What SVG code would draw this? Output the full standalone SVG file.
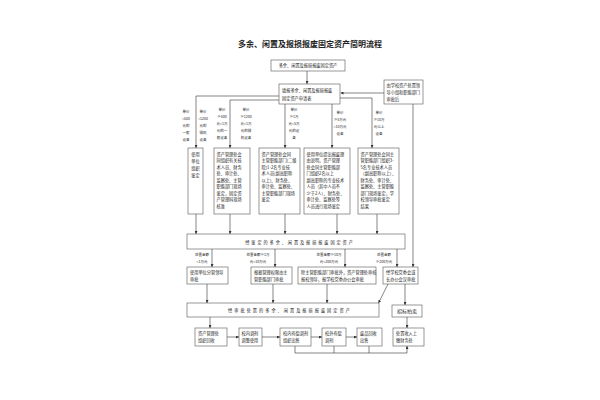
<svg xmlns="http://www.w3.org/2000/svg" width="600" height="400" viewBox="0 0 600 400">
<defs>
<marker id="a" viewBox="0 0 6 6" markerWidth="3" markerHeight="3" refX="6" refY="3" orient="auto" markerUnits="userSpaceOnUse"><path d="M0,0 L6,3 L0,6 z" fill="#333"/></marker>
<style>
text{font-family:"Noto Sans CJK SC","Noto Sans",sans-serif;fill:#222}
.t{font-size:4.2px}
.s{font-size:3.5px;text-anchor:middle}
.c{text-anchor:middle}
.b{fill:#fff;stroke:#555;stroke-width:0.6}
.l{fill:none;stroke:#333;stroke-width:0.6}
.ar{fill:none;stroke:#333;stroke-width:0.6;marker-end:url(#a)}
</style>
</defs>
<rect width="600" height="400" fill="#fff"/>
<text x="310" y="47" class="c" style="font-size:8px;font-weight:bold">多余、闲置及报损报废固定资产简明流程</text>

<g id="connectors">
<path class="ar" d="M307,71 V84"/>
<path class="ar" d="M384,93 H340.5"/>
<path class="ar" d="M279,96 H196 V148"/>
<path class="ar" d="M279,100 H230 V148"/>
<path class="ar" d="M285,104 V148"/>
<path class="ar" d="M332,104 V148"/>
<path class="ar" d="M340,98 H372 V148"/>
<path class="ar" d="M413,104 V267"/>
<path class="ar" d="M196,214 V234"/>
<path class="ar" d="M230,214 V234"/>
<path class="ar" d="M285,214 V234"/>
<path class="ar" d="M337,214 V234"/>
<path class="ar" d="M377,214 V234"/>
<path class="ar" d="M212,249 V267"/>
<path class="ar" d="M275,249 V267"/>
<path class="ar" d="M345,249 V267"/>
<path class="ar" d="M397,249 V267"/>
<path class="ar" d="M207,284 V303"/>
<path class="ar" d="M273,284 V303"/>
<path class="ar" d="M327,284 V303"/>
<path class="ar" d="M388,284 L378.5,303"/>
<path class="ar" d="M405,284 V305"/>
<path class="ar" d="M210,317 V328"/>
<path class="ar" d="M407,317 V328"/>
<path class="ar" d="M227,337 H239"/>
<path class="ar" d="M262,337 H280"/>
<path class="ar" d="M311,337 H322"/>
<path class="ar" d="M346,337 H357"/>
<path class="l" d="M295,346 V353 M334,346 V353 M369,346 V353 M295,353 H407"/>
<path class="ar" d="M407,353 V346"/>
</g>

<g id="labels">
<text class="s" x="186" y="113">单价</text><text class="s" x="186" y="120">&lt;500</text><text class="s" x="186" y="127">元的</text><text class="s" x="186" y="134">一般</text><text class="s" x="186" y="141">设备</text>
<text class="s" x="203" y="113">单价</text><text class="s" x="203" y="120">&lt;1200</text><text class="s" x="203" y="127">元的</text><text class="s" x="203" y="134">微机</text><text class="s" x="203" y="141">设备</text>
<text class="s" x="222" y="111">单价</text><text class="s" x="222" y="118">≥500</text><text class="s" x="222" y="125">元&lt;1万</text><text class="s" x="222" y="132">元的一</text><text class="s" x="222" y="139">般设备</text>
<text class="s" x="246" y="111">单价</text><text class="s" x="246" y="118">≥1200</text><text class="s" x="246" y="125">元&lt;1万</text><text class="s" x="246" y="132">元的微</text><text class="s" x="246" y="139">机设备</text>
<text class="s" x="294" y="111">单价</text><text class="s" x="294" y="118">≥1万</text><text class="s" x="294" y="125">元&lt;5万</text><text class="s" x="294" y="132">元的设</text><text class="s" x="294" y="139">备</text>
<text class="s" x="340" y="114">单价</text><text class="s" x="340" y="121">≥5万元</text><text class="s" x="340" y="128">&lt;10万元</text><text class="s" x="340" y="135">设备</text>
<text class="s" x="379" y="114">单价</text><text class="s" x="379" y="121">≥10万</text><text class="s" x="379" y="128">元以上</text><text class="s" x="379" y="135">设备</text>
<text class="s" x="202" y="256">处置金额</text><text class="s" x="202" y="263">&lt;1万元</text>
<text class="s" x="258" y="256">处置金额≥1万</text><text class="s" x="258" y="263">元&lt;10万元</text>
<text class="s" x="329" y="256">处置金额≥10万</text><text class="s" x="329" y="263">元&lt;200万元</text>
<text class="s" x="384" y="256">处置金额</text><text class="s" x="384" y="263">≥200万元</text>
</g>

<g id="n1"><rect class="b" x="271" y="60" width="74" height="11"/><text class="t c" x="308" y="67.3">多余、闲置及报损报废固定资产</text></g>
<g id="n2"><rect class="b" x="279" y="84" width="61" height="20"/><text class="t" x="282" y="91.5">填报多余、闲置及报损报废</text><text class="t" x="282" y="99.5">固定资产申请表</text></g>
<g id="n3"><rect class="b" x="384" y="80" width="39" height="24"/><text class="t" x="386.5" y="86.5">由学校资产处置领</text><text class="t" x="386.5" y="93.5">导小组和职能部门</text><text class="t" x="386.5" y="100.5">审批后</text></g>

<g id="nA"><rect class="b" x="188" y="148" width="15" height="66"/><text class="t c" x="195.5" y="156">使用</text><text class="t c" x="195.5" y="163">单位</text><text class="t c" x="195.5" y="170">组织</text><text class="t c" x="195.5" y="177">鉴定</text></g>
<g id="nB"><rect class="b" x="214" y="148" width="36" height="66"/>
<text class="t" x="216.5" y="155.5">资产管理处会</text><text class="t" x="216.5" y="162">同组织有关技</text><text class="t" x="216.5" y="168.5">术人员、财务</text><text class="t" x="216.5" y="175">处、审计处、</text><text class="t" x="216.5" y="181.5">监察处、主管</text><text class="t" x="216.5" y="188">职能部门现场</text><text class="t" x="216.5" y="194.5">鉴定，固定资</text><text class="t" x="216.5" y="201">产管理科现场</text><text class="t" x="216.5" y="207.5">核准</text></g>
<g id="nC"><rect class="b" x="259" y="148" width="41" height="66"/>
<text class="t" x="261.5" y="155.5">资产管理处会同</text><text class="t" x="261.5" y="162">主管职能部门(二级</text><text class="t" x="261.5" y="168.5">院)1-2名专业技</text><text class="t" x="261.5" y="175">术人员(副高职称</text><text class="t" x="261.5" y="181.5">以上)、财务处、</text><text class="t" x="261.5" y="188">审计处、监察处、</text><text class="t" x="261.5" y="194.5">主管职能部门现场</text><text class="t" x="261.5" y="201">鉴定</text></g>
<g id="nD"><rect class="b" x="304" y="148" width="46" height="66"/>
<text class="t" x="306.5" y="155.5">使用单位提出报废理</text><text class="t" x="306.5" y="162">由说明，资产管理</text><text class="t" x="306.5" y="168.5">处会同主管职能部</text><text class="t" x="306.5" y="175">门组织2名以上</text><text class="t" x="306.5" y="181.5">副高职称的专业技术</text><text class="t" x="306.5" y="188">人员（其中人员不</text><text class="t" x="306.5" y="194.5">少于2人）、财务处、</text><text class="t" x="306.5" y="201">审计处、监察处等</text><text class="t" x="306.5" y="207.5">人员进行现场鉴定</text></g>
<g id="nE"><rect class="b" x="358" y="148" width="41" height="66"/>
<text class="t" x="360.5" y="155.5">资产管理处会同主</text><text class="t" x="360.5" y="162">管职能部门组织3-</text><text class="t" x="360.5" y="168.5">5名专业技术人员</text><text class="t" x="360.5" y="175">（副高职称以上）、</text><text class="t" x="360.5" y="181.5">财务处、审计处、</text><text class="t" x="360.5" y="188">监察处、主管职能</text><text class="t" x="360.5" y="194.5">部门现场鉴定，学</text><text class="t" x="360.5" y="201">校领导审批鉴定</text><text class="t" x="360.5" y="207.5">结果</text></g>

<g id="bus1"><rect class="b" x="187" y="234" width="218" height="15"/><text class="t c" x="300" y="243.5" style="letter-spacing:1.9px">经鉴定的多余、闲置及报损报废固定资产</text></g>

<g id="r5a"><rect class="b" x="187" y="267" width="41" height="17"/><text class="t" x="190" y="273.5">使用单位分管领导</text><text class="t" x="190" y="280.5">审批</text></g>
<g id="r5b"><rect class="b" x="251" y="267" width="41" height="17"/><text class="t" x="254" y="273.5">根据管理权限由主</text><text class="t" x="254" y="280.5">管职能部门审批</text></g>
<g id="r5c"><rect class="b" x="298" y="267" width="78" height="17"/><text class="t" x="301" y="273.5">除主管职能部门审批外，资产管理处审核</text><text class="t" x="301" y="280.5">报校领导，报学校党委办公会审批</text></g>
<g id="r5d"><rect class="b" x="383" y="267" width="35" height="17"/><text class="t" x="386" y="273.5">经学校党委会或</text><text class="t" x="386" y="280.5">长办公会议审批</text></g>

<g id="bus2"><rect class="b" x="187" y="303" width="192" height="14"/><text class="t c" x="290" y="311.8" style="letter-spacing:2px">经审批处置的多余、闲置及报损报废固定资产</text></g>
<g id="bid"><rect class="b" x="392" y="305" width="30" height="12"/><text class="c" x="407" y="313" style="font-size:5px">招标拍卖</text></g>

<g id="r7a"><rect class="b" x="195" y="328" width="32" height="18"/><text class="t" x="198" y="335">资产管理处</text><text class="t" x="198" y="342">组织回收</text></g>
<g id="r7b"><rect class="b" x="239" y="328" width="23" height="18"/><text class="t" x="241.5" y="335">校内调剂</text><text class="t" x="241.5" y="342">调整使用</text></g>
<g id="r7c"><rect class="b" x="280" y="328" width="31" height="18"/><text class="t" x="283" y="335">校内有偿调剂</text><text class="t" x="283" y="342">组织出售</text></g>
<g id="r7d"><rect class="b" x="322" y="328" width="24" height="18"/><text class="t" x="325" y="335">校外有偿</text><text class="t" x="325" y="342">调剂</text></g>
<g id="r7e"><rect class="b" x="357" y="328" width="25" height="18"/><text class="t" x="360" y="335">废品回收</text><text class="t" x="360" y="342">出售</text></g>
<g id="r7f"><rect class="b" x="393" y="328" width="31" height="18"/><text class="t" x="396" y="335">处置收入上</text><text class="t" x="396" y="342">缴财务处</text></g>
</svg>
